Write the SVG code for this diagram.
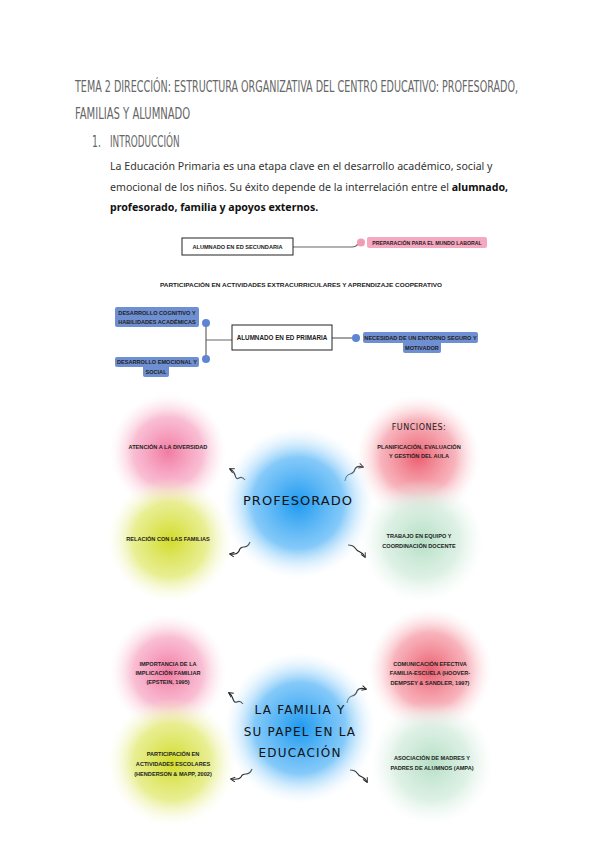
<svg xmlns="http://www.w3.org/2000/svg" width="600" height="848" viewBox="0 0 600 848">
<style>
.title{font-family:"DejaVu Sans Condensed","Liberation Sans Narrow","Liberation Sans",sans-serif;font-size:15px;fill:#666;}
.para{font-family:"Noto Sans","Liberation Sans",sans-serif;font-size:10.6px;fill:#333;}
.bold{font-weight:bold;fill:#111;}
.sm{font-family:"Liberation Sans",Arial,sans-serif;font-size:5.6px;font-weight:bold;fill:#222;text-anchor:middle;}
.bx{fill:#fff;stroke:#222;stroke-width:1;}
.ln{stroke:#666;stroke-width:1.2;fill:none;}
.blab{fill:#6f8fd3;}
.bdot{fill:#5f84d4;}
.big{font-family:"DejaVu Sans","Liberation Sans",sans-serif;font-size:13px;fill:#111;text-anchor:middle;letter-spacing:1px;}
.mid{font-family:"DejaVu Sans","Liberation Sans",sans-serif;font-size:12px;fill:#111;text-anchor:middle;letter-spacing:1.2px;}
.fn{font-family:"DejaVu Sans","Liberation Sans",sans-serif;font-size:8px;fill:#222;text-anchor:middle;letter-spacing:0.5px;}
.arr{stroke:#222;stroke-width:1.2;fill:none;}
</style>
<defs>
<radialGradient id="gPink"><stop offset="0" stop-color="#f27aa3"/><stop offset="0.6" stop-color="#f7a8c4" stop-opacity="0.75"/><stop offset="1" stop-color="#fce4ec" stop-opacity="0"/></radialGradient>
<radialGradient id="gRed"><stop offset="0" stop-color="#ec5f70"/><stop offset="0.6" stop-color="#f59aa5" stop-opacity="0.75"/><stop offset="1" stop-color="#fde2e6" stop-opacity="0"/></radialGradient>
<radialGradient id="gYel"><stop offset="0" stop-color="#d2dc2a"/><stop offset="0.6" stop-color="#e3ea78" stop-opacity="0.8"/><stop offset="1" stop-color="#f7f9d8" stop-opacity="0"/></radialGradient>
<radialGradient id="gGrn"><stop offset="0" stop-color="#b5dfc5"/><stop offset="0.6" stop-color="#d2ecdc" stop-opacity="0.75"/><stop offset="1" stop-color="#eef8f2" stop-opacity="0"/></radialGradient>
<radialGradient id="gBlu"><stop offset="0" stop-color="#1e9af0"/><stop offset="0.6" stop-color="#6fc0f8" stop-opacity="0.85"/><stop offset="1" stop-color="#e3f3fe" stop-opacity="0"/></radialGradient>
<marker id="ah" viewBox="0 0 10 10" refX="8" refY="5" markerWidth="5" markerHeight="5" orient="auto"><path d="M1,1 L9,5 L1,9" fill="none" stroke="#222" stroke-width="1.6"/></marker>
</defs>
<rect width="600" height="848" fill="#fff"/>

<g id="heading">
<text class="title" transform="translate(75,92) scale(0.69,1)" x="0" y="0" textLength="642" lengthAdjust="spacingAndGlyphs">TEMA 2 DIRECCIÓN: ESTRUCTURA ORGANIZATIVA DEL CENTRO EDUCATIVO: PROFESORADO,</text>
<text class="title" transform="translate(75,119) scale(0.69,1)" x="0" y="0" textLength="167" lengthAdjust="spacingAndGlyphs">FAMILIAS Y ALUMNADO</text>
<text class="title" transform="translate(92,147) scale(0.69,1)" x="0" y="0">1.</text>
<text class="title" transform="translate(110,147) scale(0.69,1)" x="0" y="0" textLength="101" lengthAdjust="spacingAndGlyphs">INTRODUCCIÓN</text>
<text class="para" x="110" y="170">La Educación Primaria es una etapa clave en el desarrollo académico, social y</text>
<text class="para" x="110" y="191">emocional de los niños. Su éxito depende de la interrelación entre el <tspan class="bold">alumnado,</tspan></text>
<text class="para bold" x="110" y="211">profesorado, familia y apoyos externos.</text>
</g>

<g id="connectors">
<path class="ln" d="M293,247 L352,247 Q356,247 358,244"/>
<path class="ln" d="M206,323 L206,359 M206,340 L232,340"/>
<path class="ln" d="M332,338 L356,338"/>
<path class="arr" marker-end="url(#ah)" d="M245,480 q-3,-4 -6,-2 q-3,2 -4,-3 q-1,-4 -5,-6"/>
<path class="arr" marker-end="url(#ah)" d="M345,481 q1,-6 5,-7 q4,-1 5,-5 q2,-4 8,-2"/>
<path class="arr" marker-end="url(#ah)" d="M250,542 q-2,5 -6,5 q-4,0 -5,4 q-2,4 -9,3"/>
<path class="arr" marker-end="url(#ah)" d="M348,545 q5,0 7,3 q2,3 5,4 q3,1 5,5"/>
<path class="arr" marker-end="url(#ah)" d="M243,704 q-3,-4 -6,-2 q-3,1 -4,-3 q-1,-4 -4,-6"/>
<path class="arr" marker-end="url(#ah)" d="M347,703 q1,-6 5,-7 q4,-1 5,-5 q2,-4 9,-2"/>
<path class="arr" marker-end="url(#ah)" d="M252,769 q-2,5 -6,5 q-4,0 -5,3 q-2,3 -10,2"/>
<path class="arr" marker-end="url(#ah)" d="M350,770 q5,0 7,3 q2,3 5,4 q3,1 5,5"/>
</g>

<g id="secundaria">
<rect class="bx" x="182" y="238" width="111" height="17"/>
<text class="sm" x="237.5" y="248.5">ALUMNADO EN ED SECUNDARIA</text>
</g>
<g id="laboral">
<circle cx="361" cy="242.5" r="4" fill="#f29bb5"/>
<rect x="367" y="237" width="120" height="11" rx="2" fill="#f6a8c0"/>
<text class="sm" x="427" y="244.5" style="font-size:5.2px">PREPARACIÓN PARA EL MUNDO LABORAL</text>
</g>
<g id="participacion">
<text class="sm" x="301" y="287" textLength="282" lengthAdjust="spacingAndGlyphs">PARTICIPACIÓN EN ACTIVIDADES EXTRACURRICULARES Y APRENDIZAJE COOPERATIVO</text>
</g>

<g id="primaria">
<rect class="bx" x="232" y="325" width="100" height="25"/>
<text class="sm" x="282" y="340" style="font-size:6.3px">ALUMNADO EN ED PRIMARIA</text>
</g>
<g id="cognitivo">
<rect class="blab" x="115" y="307" width="84" height="20" rx="2"/>
<text class="sm" x="157" y="315">DESARROLLO COGNITIVO Y</text>
<text class="sm" x="157" y="324">HABILIDADES ACADÉMICAS</text>
<circle class="bdot" cx="206" cy="323" r="4"/>
</g>
<g id="emocional">
<rect class="blab" x="115" y="357" width="84" height="10" rx="2"/>
<rect class="blab" x="143" y="365" width="26" height="12" rx="2"/>
<text class="sm" x="157" y="364">DESARROLLO EMOCIONAL Y</text>
<text class="sm" x="156" y="374">SOCIAL</text>
<circle class="bdot" cx="206" cy="359" r="4"/>
</g>
<g id="entorno">
<circle class="bdot" cx="356" cy="338" r="4"/>
<rect class="blab" x="363" y="332" width="115" height="11" rx="2"/>
<rect class="blab" x="403" y="341" width="38" height="12" rx="2"/>
<text class="sm" x="420.5" y="339.5">NECESIDAD DE UN ENTORNO SEGURO Y</text>
<text class="sm" x="422" y="349.5">MOTIVADOR</text>
</g>

<g id="diversidad">
<circle cx="168" cy="452" r="58" fill="url(#gPink)"/>
<text class="sm" x="168" y="449">ATENCIÓN A LA DIVERSIDAD</text>
</g>
<g id="familias-rel">
<circle cx="170" cy="540" r="62" fill="url(#gYel)"/>
<text class="sm" x="168" y="541">RELACIÓN CON LAS FAMILIAS</text>
</g>
<g id="funciones">
<circle cx="418" cy="457" r="62" fill="url(#gRed)"/>
<text class="fn" x="419" y="430">FUNCIONES:</text>
<text class="sm" x="419" y="449">PLANIFICACIÓN, EVALUACIÓN</text>
<text class="sm" x="419" y="458">Y GESTIÓN DEL AULA</text>
</g>
<g id="equipo">
<circle cx="422" cy="541" r="62" fill="url(#gGrn)"/>
<text class="sm" x="419" y="538">TRABAJO EN EQUIPO Y</text>
<text class="sm" x="419" y="548">COORDINACIÓN DOCENTE</text>
</g>
<g id="profesorado">
<circle cx="298" cy="503" r="76" fill="url(#gBlu)"/>
<text class="big" x="298" y="505">PROFESORADO</text>
</g>

<g id="implicacion">
<circle cx="168" cy="672" r="58" fill="url(#gPink)"/>
<text class="sm" x="168" y="666">IMPORTANCIA DE LA</text>
<text class="sm" x="168" y="675">IMPLICACIÓN FAMILIAR</text>
<text class="sm" x="168" y="684">(EPSTEIN, 1995)</text>
</g>
<g id="actividades">
<circle cx="172" cy="762" r="64" fill="url(#gYel)"/>
<text class="sm" x="173" y="756">PARTICIPACIÓN EN</text>
<text class="sm" x="173" y="766">ACTIVIDADES ESCOLARES</text>
<text class="sm" x="173" y="776">(HENDERSON &amp; MAPP, 2002)</text>
</g>
<g id="comunicacion">
<circle cx="430" cy="670" r="62" fill="url(#gRed)"/>
<text class="sm" x="430" y="666">COMUNICACIÓN EFECTIVA</text>
<text class="sm" x="430" y="675">FAMILIA-ESCUELA (HOOVER-</text>
<text class="sm" x="430" y="685">DEMPSEY &amp; SANDLER, 1997)</text>
</g>
<g id="ampa">
<circle cx="432" cy="763" r="62" fill="url(#gGrn)"/>
<text class="sm" x="432" y="760">ASOCIACIÓN DE MADRES Y</text>
<text class="sm" x="432" y="770">PADRES DE ALUMNOS (AMPA)</text>
</g>
<g id="familia">
<circle cx="300" cy="728" r="76" fill="url(#gBlu)"/>
<text class="mid" x="300" y="714">LA FAMILIA Y</text>
<text class="mid" x="300" y="736">SU PAPEL EN LA</text>
<text class="mid" x="300" y="757">EDUCACIÓN</text>
</g>
</svg>
